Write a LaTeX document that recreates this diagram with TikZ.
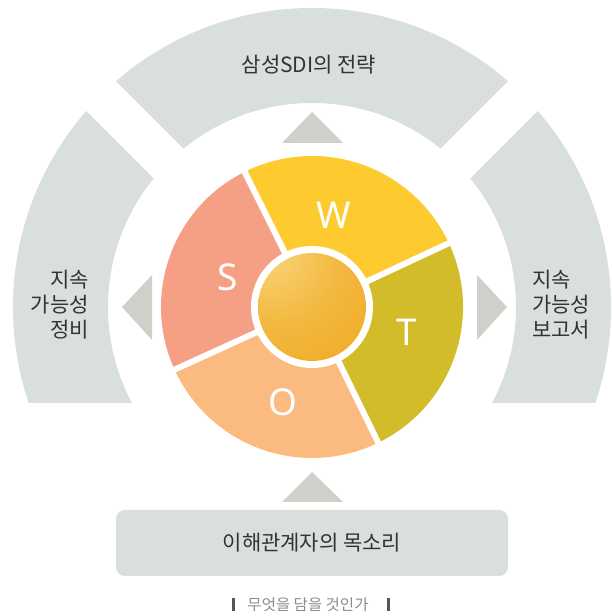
\documentclass[tikz,border=0pt]{standalone}
\usepackage{fontspec}
\setmainfont{Noto Sans CJK KR}
\newfontfamily\swotfont{Noto Sans}
\definecolor{ringgray}{HTML}{D9DFDB}
\definecolor{trigray}{HTML}{CFD0CA}
\definecolor{colS}{HTML}{F5A085}
\definecolor{colW}{HTML}{FDCA2F}
\definecolor{colT}{HTML}{D2BC29}
\definecolor{colO}{HTML}{FBBA7F}
\definecolor{txt}{HTML}{333333}
\definecolor{captxt}{HTML}{8C8C8C}
\definecolor{barcol}{HTML}{555555}
\definecolor{ballA}{HTML}{FAD77E}
\definecolor{ballB}{HTML}{F3B840}
\definecolor{ballC}{HTML}{EFA619}
\pgfdeclareradialshading{ballshade}{\pgfpoint{-22bp}{28bp}}{%
  color(0bp)=(ballA); color(28bp)=(ballB); color(60bp)=(ballC); color(100bp)=(ballC)}
\tikzset{
  label/.style={text=txt, inner sep=0pt, font=\fontsize{21}{25}\selectfont},
  letter/.style={text=white, inner sep=0pt, font=\swotfont\fontsize{37}{37}\selectfont},
  arrowtri/.style={fill=trigray},
  gap/.style={draw=white, line width=6pt},
}
\begin{document}
\begin{tikzpicture}[x=1pt,y=1pt]
\useasboundingbox (0,0) rectangle (611,616);
\coordinate (C) at (312,309);
% outer ring
\begin{scope}
  \clip (0,213) rectangle (611,616);
  \fill[ringgray, even odd rule] (C) circle[radius=299] (C) circle[radius=204];
\end{scope}
\draw[white, line width=42pt] (C) -- ++(45:330) (C) -- ++(135:330);
% triangles
\fill[arrowtri] (312,504) -- (282,473) -- (343,473) -- cycle;
\fill[arrowtri] (312,144) -- (282,114) -- (343,114) -- cycle;
\fill[arrowtri] (122,309) -- (152,341) -- (152,276) -- cycle;
\fill[arrowtri] (507,309) -- (477,341) -- (477,276) -- cycle;
% sectors
\fill[colW] (C) -- ++(25:151) arc[start angle=25, end angle=116.5, radius=151] -- cycle;
\fill[colS] (C) -- ++(116.5:151) arc[start angle=116.5, end angle=204.5, radius=151] -- cycle;
\fill[colO] (C) -- ++(204.5:151) arc[start angle=204.5, end angle=296, radius=151] -- cycle;
\fill[colT] (C) -- ++(296:151) arc[start angle=296, end angle=385, radius=151] -- cycle;
\draw[gap] (C) -- ++(25:156) (C) -- ++(116.5:156) (C) -- ++(204.5:156) (C) -- ++(296:156);
\fill[white] (C) circle[radius=61];
\shade[shading=ballshade] (C) circle[radius=54];
% letters
\node[letter] (W) at (334,401) {W};
\node[letter] (S) at (228,339) {S};
\node[letter] (T) at (406.5,283.5) {T};
\node[letter] (O) at (282.5,213.5) {O};
% labels
\node[label] (top) at (309,551) {삼성SDI의 전략};
\node[label, align=right, anchor=east] (left) at (89,311) {지속\\가능성\\정비};
\node[label, align=left, anchor=west] (right) at (532,311) {지속\\가능성\\보고서};
% bottom box
\fill[ringgray, rounded corners=9pt] (116,40) rectangle (508,106);
\node[label] (box) at (312,73.5) {이해관계자의 목소리};
% caption
\node[text=captxt, inner sep=0pt, font=\fontsize{15.5}{15.5}\selectfont] (cap) at (308,11) {무엇을 담을 것인가};
\fill[barcol] (232,5) rectangle (234.5,18);
\fill[barcol] (387,5) rectangle (389.5,18);
\end{tikzpicture}
\end{document}
